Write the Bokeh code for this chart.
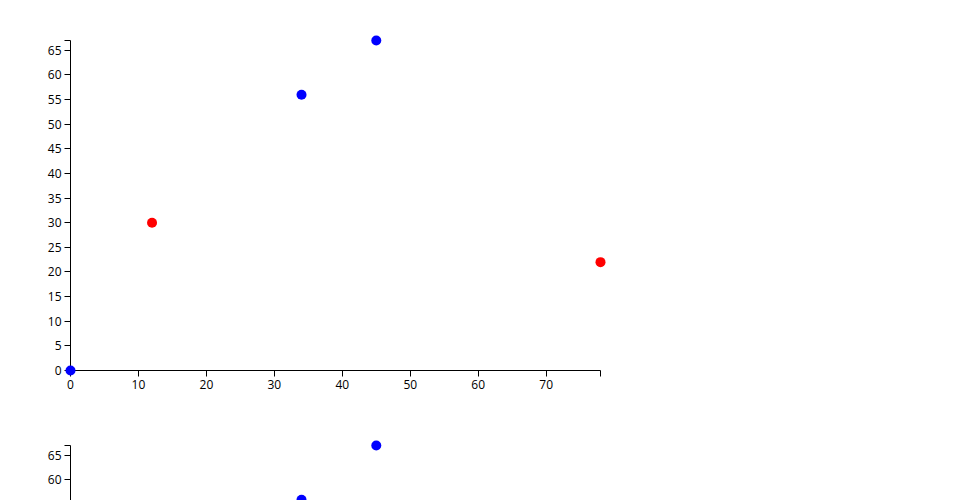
from bokeh.plotting import figure
from bokeh.layouts import column
from bokeh.models import ColumnDataSource, FixedTicker
from bokeh.transform import factor_cmap
from bokeh.embed import file_html
from bokeh.resources import INLINE

# ---- data ----
x_values = [0, 12, 34, 45, 78]
y_values = [0, 30, 56, 67, 22]
groups = ["b", "r", "b", "b", "r"]
group_names = ["b", "r"]
group_colors = ["#0000ff", "#ff0000"]

x_max = 78
y_max = 67
x_ticks = [0, 10, 20, 30, 40, 50, 60, 70]
y_ticks = [0, 5, 10, 15, 20, 25, 30, 35, 40, 45, 50, 55, 60, 65]

FONT = "Open Sans"
PX_X = 530 / x_max      # px per x unit
PX_Y = 330 / y_max      # px per y unit
PAD_L, PAD_R = 30, 10   # px padding so labels/markers aren't clipped
PAD_T, PAD_B = 10, 30
WIDTH = 952


def make_fig(height, top, frame_h, show_x, bottom):
    x_start = -PAD_L / PX_X
    x_end = x_max + PAD_R / PX_X
    y_end = y_max + PAD_T / PX_Y
    y_start = y_end - frame_h / PX_Y
    frame_w = 530 + PAD_L + PAD_R
    left = 70 - PAD_L
    p = figure(width=WIDTH, height=height, output_backend="svg",
               toolbar_location=None,
               x_range=(x_start, x_end), y_range=(y_start, y_end),
               min_border_left=left, min_border_right=WIDTH - left - frame_w,
               min_border_top=top, min_border_bottom=bottom)
    p.outline_line_color = None
    p.xgrid.visible = False
    p.ygrid.visible = False
    p.background_fill_color = "white"
    p.border_fill_color = "white"

    src = ColumnDataSource(dict(x=x_values, y=y_values, g=groups))
    p.scatter("x", "y", source=src, size=10, line_color=None,
              fill_color=factor_cmap("g", group_colors, group_names),
              level="overlay")

    for ax, ticks, mx in ((p.xaxis[0], x_ticks, x_max), (p.yaxis[0], y_ticks, y_max)):
        ax.ticker = FixedTicker(ticks=ticks + [mx])
        ax.major_label_overrides = {mx: ""}
        ax.fixed_location = 0
        ax.bounds = (0, mx)
        ax.axis_line_color = "black"
        ax.axis_line_width = 1
        ax.major_tick_line_color = "black"
        ax.major_tick_out = 6
        ax.major_tick_in = 0
        ax.minor_tick_line_color = None
        ax.major_label_text_font = FONT
        ax.major_label_text_font_size = "12px"
        ax.major_label_text_color = "black"
        ax.major_label_standoff = 3
    if not show_x:
        p.xaxis.visible = False
    return p


# figure 1: frame from y=30 to y=400 (axis top at 40, x axis at 370)
p1 = make_fig(430, 30, 370, True, 30)
# figure 2: starts at 430, frame top at 435 (axis top at 445)
p2 = make_fig(70, 5, 65, False, 0)
layout = column(p1, p2, spacing=0)

open("out.html", "w").write(file_html(layout, INLINE))
